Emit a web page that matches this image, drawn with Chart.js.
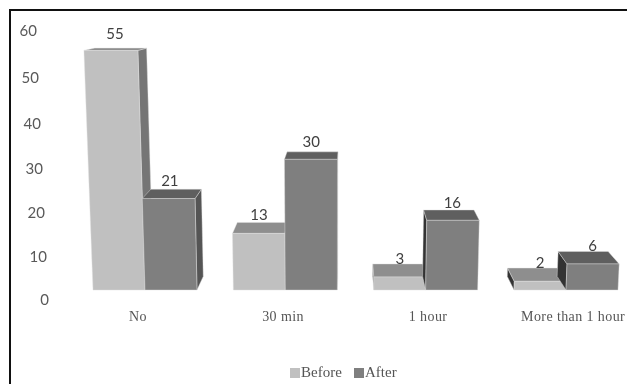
<!DOCTYPE html>
<html>
<head>
<meta charset="utf-8">
<title>Before and After</title>
<script src="https://cdn.jsdelivr.net/npm/chart.js@4"></script>
<style>
  html, body { margin: 0; padding: 0; background: #fff; }
  #wrap { position: relative; width: 627px; height: 384px; }
</style>
</head>
<body>
<div id="wrap"><canvas id="chart" width="627" height="384"></canvas></div>
<script>
const categories = ['No', '30 min', '1 hour', 'More than 1 hour'];
const seriesNames = ['Before', 'After'];
const beforeValues = [55, 13, 3, 2];
const afterValues = [21, 30, 16, 6];
const axisTicks = [0, 10, 20, 30, 40, 50, 60];

const palette = {
  Before: { front: '#c0c0c0', top: '#8e8e8e', right: '#757575', left: '#333333' },
  After:  { front: '#7f7f7f', top: '#5f5f5f', right: '#555555', left: '#333333' }
};

// Perspective of the drawn box: vanishing point and depth factors.
const VANISH_X = 350, DEPTH_X = 0.041, DEPTH_Y = 0.047;
const LEAN_X = 330, LEAN = 0.00016;

function fillPoly(ctx, pts, color) {
  ctx.beginPath();
  pts.forEach((p, i) => i ? ctx.lineTo(p[0], p[1]) : ctx.moveTo(p[0], p[1]));
  ctx.closePath();
  ctx.fillStyle = color;
  ctx.fill();
  ctx.lineWidth = 0.7;
  ctx.strokeStyle = 'rgba(225,225,225,0.6)';
  ctx.stroke();
}

const back = p => [p[0] + (VANISH_X - p[0]) * DEPTH_X, p[1] - p[1] * DEPTH_Y];

function boxFaces(bar) {
  const h = bar.base - bar.y;
  const l = bar.x - bar.width / 2, r = bar.x + bar.width / 2;
  const lean = x => x + (x - LEAN_X) * LEAN * h;
  const fl = [lean(l), bar.y], fr = [lean(r), bar.y];
  const bl = [l, bar.base], br = [r, bar.base];
  return { fl, fr, bl, br, bfl: back(fl), bfr: back(fr), bbl: back(bl), bbr: back(br) };
}

const boxes3d = {
  id: 'boxes3d',
  beforeDraw(chart) {
    const ctx = chart.ctx;
    ctx.save();
    ctx.strokeStyle = '#111';
    ctx.lineWidth = 2;
    ctx.beginPath();
    ctx.moveTo(10, 384);
    ctx.lineTo(10, 10);
    ctx.lineTo(627, 10);
    ctx.stroke();
    ctx.restore();
  },
  // Each box is built from the bar element's own geometry, pair by pair,
  // so nearer faces overlap the ones behind them.
  beforeDatasetsDraw(chart) {
    const ctx = chart.ctx;
    ctx.save();
    const labels = [];
    categories.forEach((_, i) => {
      chart.data.datasets.forEach((ds, d) => {
        const bar = chart.getDatasetMeta(d).data[i];
        const c = palette[ds.label];
        const f = boxFaces(bar);
        if (f.bfl[0] < f.fl[0]) fillPoly(ctx, [f.fl, f.bfl, f.bbl, f.bl], c.left);
        if (f.bfr[0] > f.fr[0]) fillPoly(ctx, [f.fr, f.bfr, f.bbr, f.br], c.right);
        fillPoly(ctx, [f.fl, f.bfl, f.bfr, f.fr], c.top);
        fillPoly(ctx, [f.fl, f.fr, f.br, f.bl], c.front);
        labels.push({
          text: String(ds.data[i]),
          x: (bar.x + (f.fl[0] + f.fr[0]) / 2) / 2,
          y: f.bfl[1] - 4 - (1 - f.bfl[1] / 290) * 12
        });
      });
    });
    ctx.fillStyle = '#404040';
    ctx.font = '15px Lato, "Open Sans", sans-serif';
    ctx.textAlign = 'center';
    ctx.textBaseline = 'middle';
    labels.forEach(l => ctx.fillText(l.text, l.x, l.y));
    ctx.restore();
    return false;
  },
  afterDraw(chart) {
    const ctx = chart.ctx;
    const yAxis = chart.scales.y, xAxis = chart.scales.x;
    ctx.save();
    ctx.textBaseline = 'middle';

    // Value axis labels follow the slanted left wall.
    ctx.fillStyle = '#595959';
    ctx.font = '15px Lato, "Open Sans", sans-serif';
    ctx.textAlign = 'right';
    axisTicks.forEach(v => {
      const t = (v - 30) / 30;
      const bow = v === 0 || v === 60 ? 0 : 3.6 * (1 - t * t);
      ctx.fillText(String(v), 37 + (60 - v) * 0.2, yAxis.getPixelForValue(v) + bow);
    });

    // Category labels sit slightly wider apart than the bar groups.
    ctx.font = '14px "Liberation Serif", serif';
    ctx.letterSpacing = '0.4px';
    ctx.fillStyle = '#555555';
    ctx.textAlign = 'center';
    categories.forEach((name, i) => {
      ctx.fillText(name, xAxis.getPixelForValue(i) + (i * 4.7 - 7), 317.5);
    });

    // Legend with the text set tight against each swatch.
    ctx.textAlign = 'left';
    ctx.font = '15px "Liberation Serif", serif';
    ctx.letterSpacing = '0px';
    let x = 290;
    chart.data.datasets.forEach(ds => {
      ctx.fillStyle = ds.backgroundColor;
      ctx.fillRect(x, 368, 10, 10);
      ctx.fillStyle = '#555555';
      ctx.fillText(ds.label, x + 11, 373);
      x += 64;
    });
    ctx.restore();
  }
};

new Chart(document.getElementById('chart'), {
  type: 'bar',
  plugins: [boxes3d],
  data: {
    labels: categories,
    datasets: [
      { label: seriesNames[0], data: beforeValues, backgroundColor: '#c0c0c0', yAxisID: 'depth', barThickness: 52 },
      { label: seriesNames[1], data: afterValues, backgroundColor: '#7f7f7f', yAxisID: 'depth', barThickness: 52 }
    ]
  },
  options: {
    responsive: false,
    animation: false,
    events: [],
    layout: { padding: { left: 0, right: 0, top: 31, bottom: 0 } },
    plugins: {
      tooltip: { enabled: false },
      legend: { display: false }
    },
    scales: {
      x: {
        type: 'category',
        offset: false,
        grid: { display: false },
        border: { display: false },
        ticks: { display: false },
        afterFit: s => { s.height = 84; }
      },
      y: {
        position: 'left',
        min: 0, max: 60,
        grid: { display: false },
        border: { display: false },
        ticks: { display: false },
        afterFit: s => { s.width = 145; }
      },
      depth: {
        position: 'right',
        min: -2.29, max: 59.47,
        grid: { display: false },
        border: { display: false },
        ticks: { display: false },
        afterFit: s => { s.width = 61; }
      }
    }
  }
});
</script>
</body>
</html>
